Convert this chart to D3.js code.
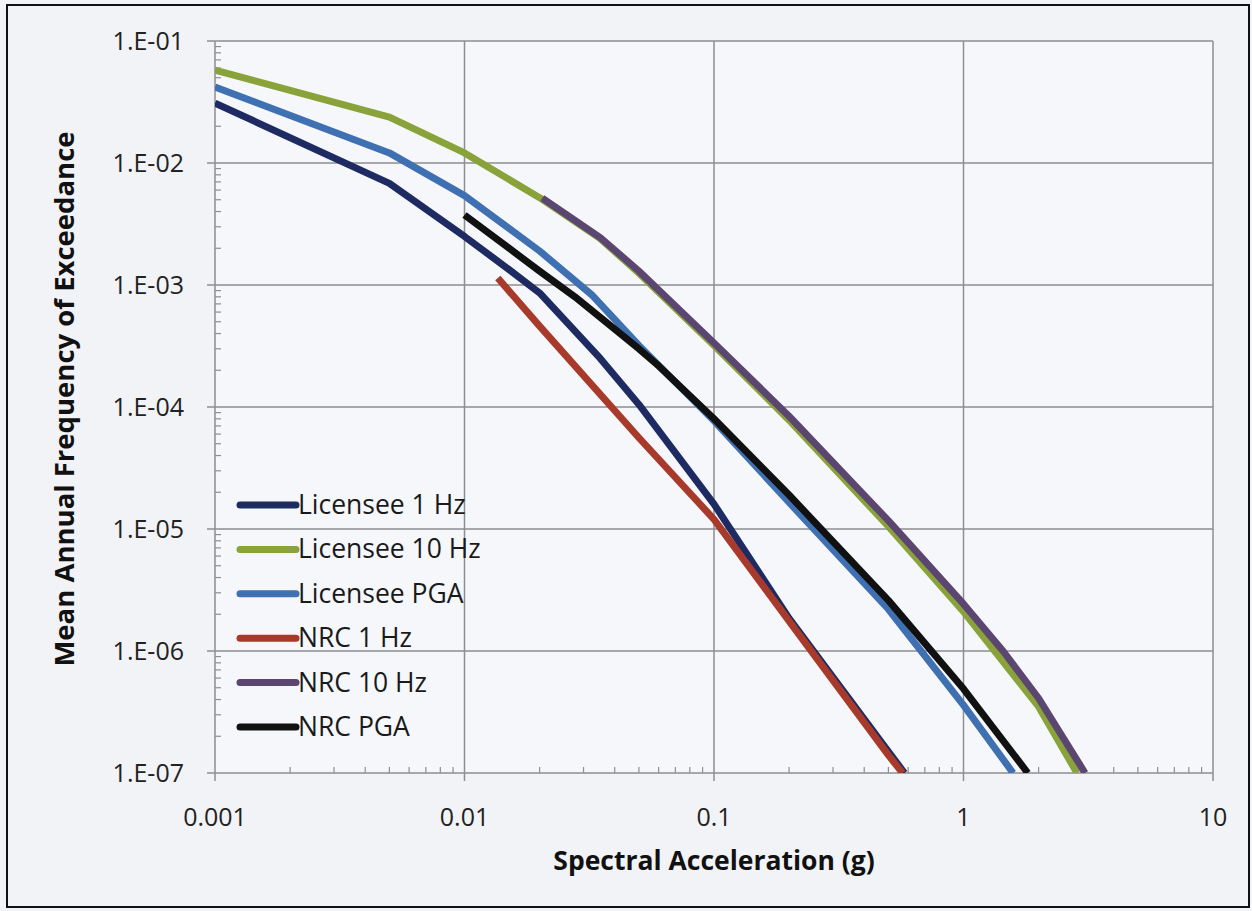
<!DOCTYPE html>
<html lang="en">
<head>
  <meta charset="UTF-8">
  <title>Mean Annual Frequency of Exceedance</title>
  <script src="https://d3js.org/d3.v7.min.js"></script>
  <style>
    body {
      margin: 0;
      background: #f2f3f6;
      font-family: "Open Sans", Arial, sans-serif;
    }
    .grid line {
      stroke: #8e8e92;
      stroke-width: 1.5px;
    }
    .tick-label {
      font-size: 25px;
      fill: #222;
    }
    .axis-title {
      font-size: 26.5px;
      font-weight: bold;
      fill: #111;
    }
    .y-title {
      font-size: 27.5px;
    }
    .legend text {
      font-size: 26.5px;
      fill: #1a1a1a;
    }
    .series {
      fill: none;
      stroke-width: 7px;
      stroke-linejoin: round;
    }
  </style>
</head>
<body>
  <svg id="chart" width="1252" height="911"></svg>

  <script>
    // Series (x = spectral acceleration in g, y = annual frequency)
    const lic1X  = [0.001, 0.005, 0.01, 0.015, 0.02, 0.035, 0.05, 0.1, 0.2, 0.5, 0.58];
    const lic1Y  = [0.031, 0.0068, 0.0025, 1.35e-3, 8.6e-4, 2.5e-4, 1.05e-4, 1.6e-5, 1.85e-6, 1.5e-7, 1e-7];

    const lic10X = [0.001, 0.005, 0.01, 0.02, 0.035, 0.05, 0.1, 0.2, 0.5, 1, 2, 2.85];
    const lic10Y = [0.0578, 0.0238, 0.0121, 0.0052, 2.4e-3, 1.25e-3, 3.2e-4, 7.8e-5, 1.05e-5, 2.1e-6, 3.5e-7, 1e-7];

    const licPgaX = [0.001, 0.005, 0.01, 0.02, 0.0326, 0.05, 0.07, 0.1, 0.2, 0.5, 1, 1.58];
    const licPgaY = [0.042, 0.0121, 0.0054, 0.0019, 8.2e-4, 3.2e-4, 1.6e-4, 7.7e-5, 1.65e-5, 2.2e-6, 3.6e-7, 1e-7];

    const nrc1X  = [0.0136, 0.02, 0.05, 0.1, 0.2, 0.5, 0.57];
    const nrc1Y  = [1.14e-3, 4.6e-4, 5.6e-5, 1.2e-5, 1.76e-6, 1.4e-7, 1e-7];

    const nrc10X = [0.0205, 0.035, 0.05, 0.1, 0.2, 0.5, 1, 1.44, 2, 3.07];
    const nrc10Y = [0.00516, 2.45e-3, 1.3e-3, 3.35e-4, 8.4e-5, 1.17e-5, 2.43e-6, 1e-6, 4.1e-7, 1e-7];

    const nrcPgaX = [0.01, 0.02, 0.0277, 0.05, 0.06, 0.1, 0.2, 0.5, 1, 1.81];
    const nrcPgaY = [3.75e-3, 1.3e-3, 8.0e-4, 3.0e-4, 2.17e-4, 8.0e-5, 1.9e-5, 2.6e-6, 4.9e-7, 1e-7];

    const seriesNames = ["Licensee 1 Hz", "Licensee 10 Hz", "Licensee PGA", "NRC 1 Hz", "NRC 10 Hz", "NRC PGA"];
    const seriesColors = ["#1d2b62", "#8aa23a", "#3f70b2", "#a83a2c", "#5b4672", "#111111"];

    const xTicks = [0.001, 0.01, 0.1, 1, 10];
    const xTickLabels = ["0.001", "0.01", "0.1", "1", "10"];
    const yTicks = [1e-1, 1e-2, 1e-3, 1e-4, 1e-5, 1e-6, 1e-7];
    const yTickLabels = ["1.E-01", "1.E-02", "1.E-03", "1.E-04", "1.E-05", "1.E-06", "1.E-07"];

    const seriesX = [lic1X, lic10X, licPgaX, nrc1X, nrc10X, nrcPgaX];
    const seriesY = [lic1Y, lic10Y, licPgaY, nrc1Y, nrc10Y, nrcPgaY];

    // Layout
    const plot = {left: 215, right: 1213, top: 41, bottom: 773};

    const svg = d3.select("#chart");

    // outer frame
    svg.append("rect")
      .attr("x", 7).attr("y", 5)
      .attr("width", 1242).attr("height", 902)
      .attr("fill", "#f2f3f6")
      .attr("stroke", "#111")
      .attr("stroke-width", 2);

    const x = d3.scaleLog().domain([0.001, 10]).range([plot.left, plot.right]);
    const y = d3.scaleLog().domain([1e-7, 1e-1]).range([plot.bottom, plot.top]);

    // plot background
    svg.append("rect")
      .attr("x", plot.left).attr("y", plot.top)
      .attr("width", plot.right - plot.left).attr("height", plot.bottom - plot.top)
      .attr("fill", "#f6f7fa");

    // grid lines
    const grid = svg.append("g").attr("class", "grid");
    grid.selectAll(".gx")
      .data(xTicks)
      .enter().append("line")
      .attr("x1", d => x(d)).attr("x2", d => x(d))
      .attr("y1", plot.top).attr("y2", plot.bottom + 8);
    grid.selectAll(".gy")
      .data(yTicks)
      .enter().append("line")
      .attr("x1", plot.left - 8).attr("x2", plot.right)
      .attr("y1", d => y(d)).attr("y2", d => y(d));

    // minor ticks
    const minorX = [];
    const minorY = [];
    xTicks.slice(0, -1).forEach(d => { for (let k = 2; k <= 9; k++) minorX.push(d * k); });
    yTicks.slice(1).forEach(d => { for (let k = 2; k <= 9; k++) minorY.push(d * k); });

    svg.append("g").selectAll("line")
      .data(minorX)
      .enter().append("line")
      .attr("x1", d => x(d)).attr("x2", d => x(d))
      .attr("y1", plot.bottom).attr("y2", plot.bottom - 6)
      .attr("stroke", "#8e8e92").attr("stroke-width", 1.2);

    svg.append("g").selectAll("line")
      .data(minorY)
      .enter().append("line")
      .attr("x1", plot.left).attr("x2", plot.left + 6)
      .attr("y1", d => y(d)).attr("y2", d => y(d))
      .attr("stroke", "#8e8e92").attr("stroke-width", 1.2);

    // tick labels
    svg.append("g").selectAll("text")
      .data(xTicks)
      .enter().append("text")
      .attr("class", "tick-label")
      .attr("x", d => x(d))
      .attr("y", 826)
      .attr("text-anchor", "middle")
      .text((d, i) => xTickLabels[i]);

    svg.append("g").selectAll("text")
      .data(yTicks)
      .enter().append("text")
      .attr("class", "tick-label")
      .attr("x", 184)
      .attr("y", d => y(d) + 9)
      .attr("text-anchor", "end")
      .text((d, i) => yTickLabels[i]);

    // axis titles
    svg.append("text")
      .attr("class", "axis-title")
      .attr("x", (plot.left + plot.right) / 2)
      .attr("y", 870)
      .attr("text-anchor", "middle")
      .text("Spectral Acceleration (g)");

    svg.append("text")
      .attr("class", "axis-title y-title")
      .attr("transform", "translate(74,399) rotate(-90)")
      .attr("text-anchor", "middle")
      .text("Mean Annual Frequency of Exceedance");

    // clip
    svg.append("clipPath").attr("id", "clip")
      .append("rect")
      .attr("x", plot.left).attr("y", plot.top)
      .attr("width", plot.right - plot.left).attr("height", plot.bottom - plot.top);

    const line = d3.line()
      .x(d => x(d[0]))
      .y(d => y(d[1]));

    svg.append("g").attr("clip-path", "url(#clip)")
      .selectAll("path")
      .data(seriesNames)
      .enter().append("path")
      .attr("class", "series")
      .attr("stroke", (d, i) => seriesColors[i])
      .attr("d", (d, i) => line(seriesX[i].map((v, j) => [v, seriesY[i][j]])));

    // legend
    const legend = svg.append("g").attr("class", "legend");
    const rows = legend.selectAll("g")
      .data(seriesNames)
      .enter().append("g")
      .attr("transform", (d, i) => `translate(240,${505 + i * 44.4})`);
    rows.append("line")
      .attr("x1", 0).attr("x2", 56)
      .attr("stroke", (d, i) => seriesColors[i])
      .attr("stroke-width", 7)
      .attr("stroke-linecap", "round");
    rows.append("text")
      .attr("x", 58)
      .attr("y", 9)
      .text(d => d);
  </script>
</body>
</html>
